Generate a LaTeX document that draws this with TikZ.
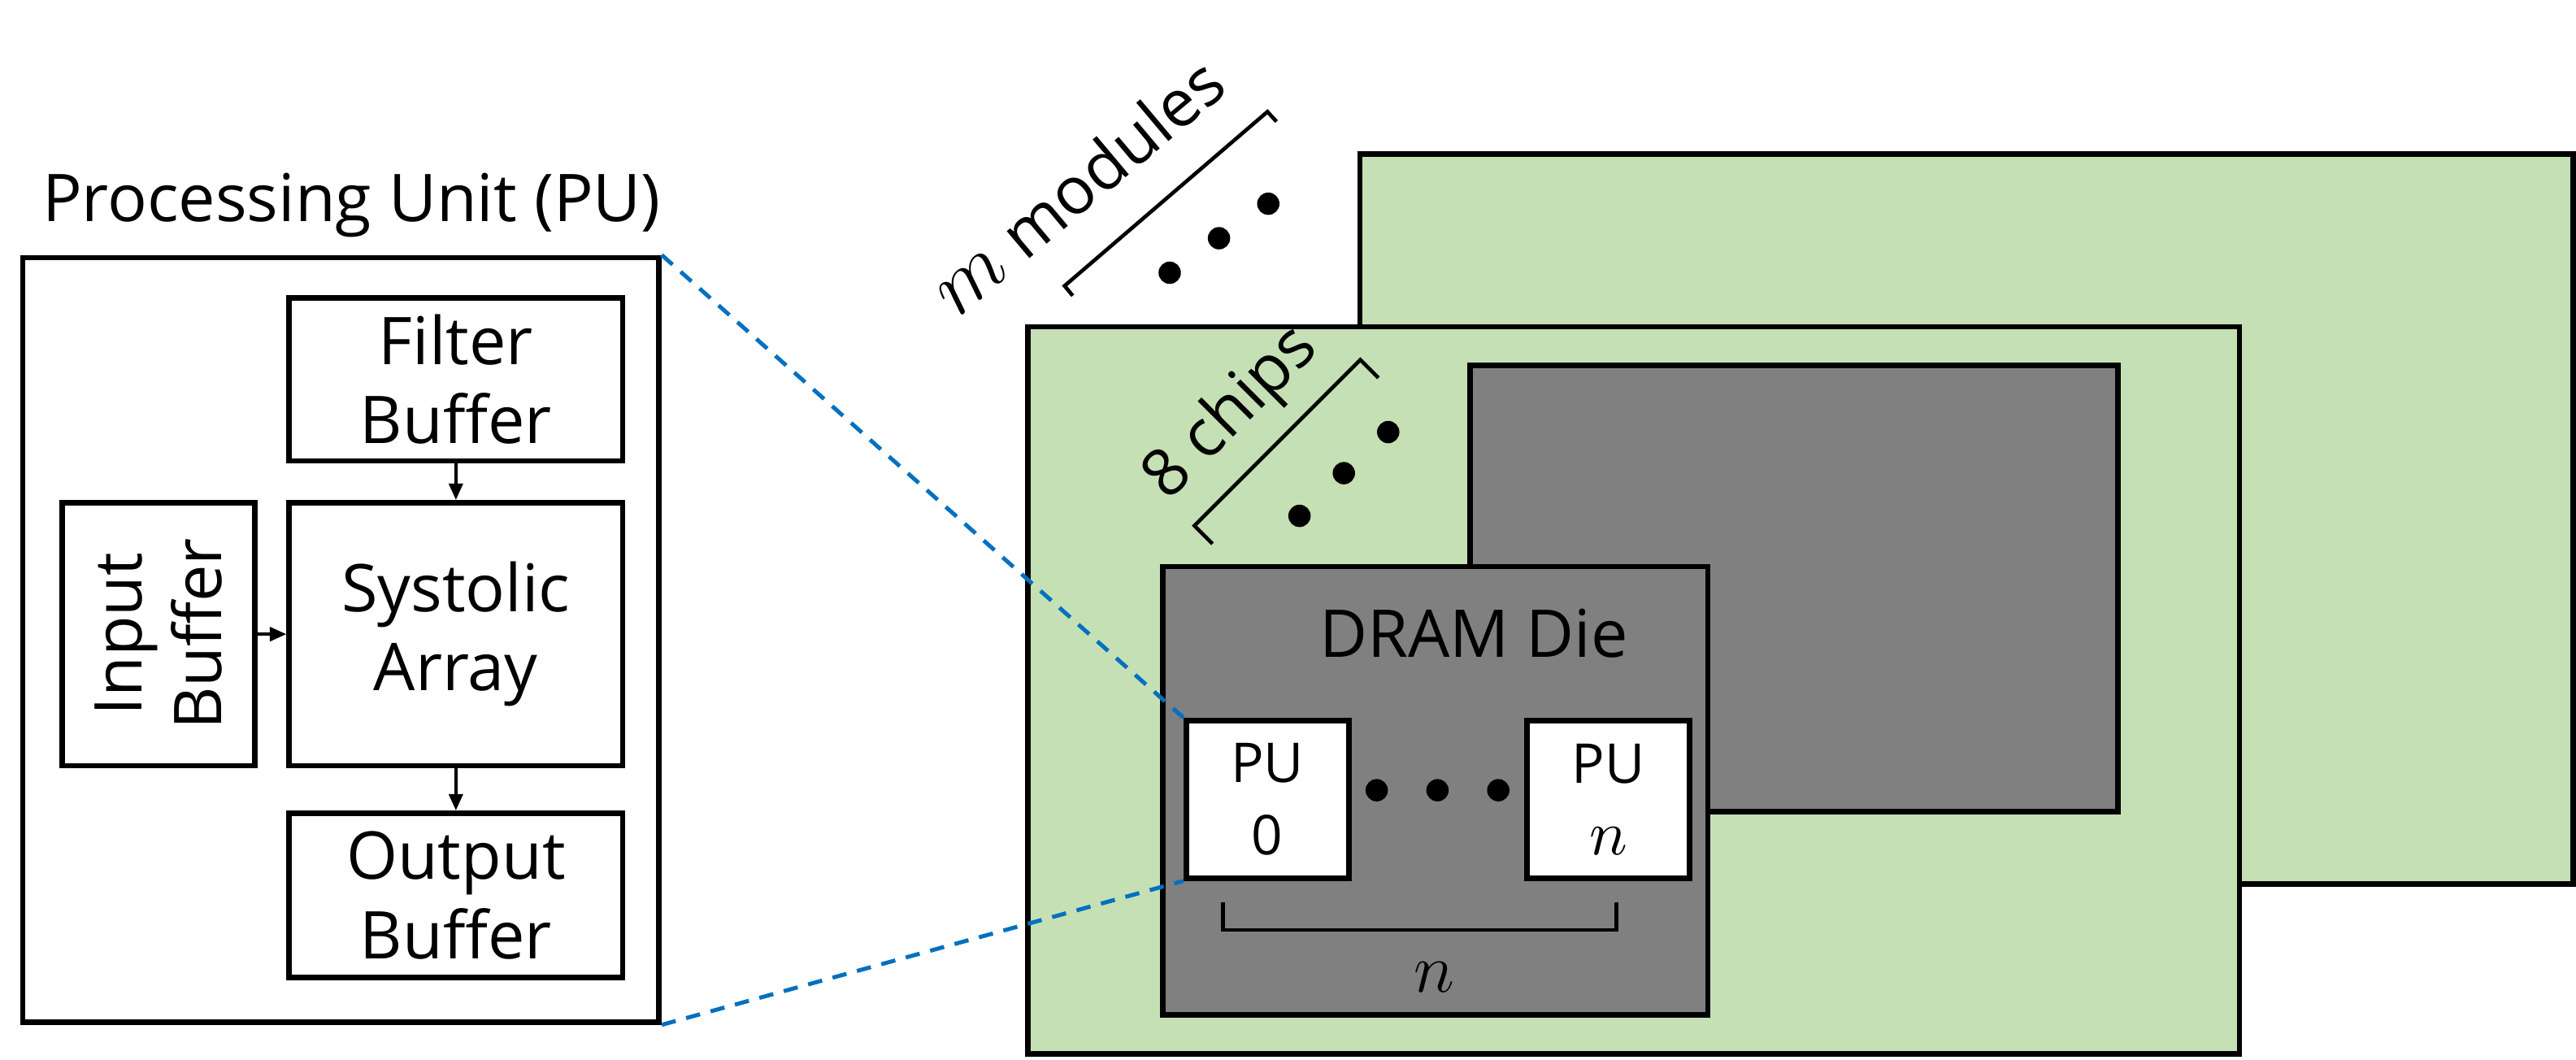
\documentclass[tikz,border=0pt]{standalone}
\usepackage{fontspec}
\setmainfont{Open Sans}
\usetikzlibrary{arrows.meta}
\definecolor{modgreen}{HTML}{C5E0B4}
\definecolor{diegray}{HTML}{808080}
\definecolor{linkblue}{HTML}{0070C0}
\newcommand\lblfont{\fontsize{11.4pt}{13.7pt}\selectfont}
\newcommand\pufont{\fontsize{9.5pt}{12.4pt}\selectfont}
\begin{document}
\begin{tikzpicture}[x=0.01cm, y=-0.01cm,
  box/.style={draw, line width=0.95pt, inner sep=0pt, align=center, font=\lblfont},
  arr/.style={-{Triangle[length=0.1cm,width=0.085cm]}, line width=0.5pt},
  brk/.style={line width=0.65pt},
  dot/.style={circle, fill=black, inner sep=0pt, minimum size=0.136cm},
  link/.style={draw=linkblue, line width=0.7pt, dash pattern=on 0.088cm off 0.066cm}]
\useasboundingbox (0,0) rectangle (1568,645);

% ---------- Processing unit detail ----------
\node[font=\lblfont, anchor=base] (title) at (214,135) {Processing Unit (PU)};
\node[box, minimum width=3.87cm, minimum height=4.65cm] (pu) at (207.5,389.5) {};
\node[box, minimum width=2.03cm, minimum height=0.99cm] (filter) at (277.5,231) {Filter\\Buffer};
\node[box, minimum width=2.03cm, minimum height=1.60cm] (systolic) at (277.5,386) {Systolic\\Array};
\node[box, minimum width=1.17cm, minimum height=1.60cm] (input) at (96.5,386) {};
\node[font=\lblfont, rotate=90, align=center, inner sep=0pt] (inputlbl) at (input.center) {Input\\Buffer};
\node[box, minimum width=2.03cm, minimum height=1.00cm] (output) at (277.5,545) {Output\\Buffer};
\draw[arr] (filter.south) -- (systolic.north);
\draw[arr] (input.east) -- (systolic.west);
\draw[arr] (systolic.south) -- (output.north);

% ---------- Modules, chips, dies ----------
\node[box, fill=modgreen, minimum width=7.38cm, minimum height=4.44cm] (backmod) at (1197,316) {};
\node[box, fill=modgreen, minimum width=7.37cm, minimum height=4.425cm] (frontmod) at (994.5,420.25) {};
\node[box, fill=diegray, minimum width=3.94cm, minimum height=2.715cm] (backdie) at (1092,358.25) {};
\node[box, fill=diegray, minimum width=3.315cm, minimum height=2.725cm] (frontdie) at (873.75,481.25) {};
\node[font=\lblfont] (dram) at (897,385.5) {DRAM Die};
\node[box, fill=white, minimum width=0.99cm, minimum height=0.96cm, font=\pufont] (pu0) at (771.5,486.5) {PU\\0};
\node[box, fill=white, minimum width=0.99cm, minimum height=0.96cm, font=\pufont] (pun) at (979,486.5) {PU\\{\lblfont$n$}};
\node[dot] (pd1) at (838,481) {};
\node[dot] (pd2) at (875,481) {};
\node[dot] (pd3) at (912,481) {};

% bracket under PUs
\coordinate (bl) at (744.5,549);
\coordinate (br) at (984,549);
\draw[brk] (bl) -- ++(0,17) -| (br);
\node[font=\fontsize{13pt}{13pt}\selectfont] (ncount) at (873,595) {$n$};

% 8 chips
\coordinate (ct1) at (738,331);
\coordinate (c1) at (727,320);
\coordinate (c2) at (828,219);
\coordinate (ct2) at (839,230);
\draw[brk] (ct1) -- (c1) -- (c2) -- (ct2);
\node[dot] (cd1) at (791,314) {};
\node[dot] (cd2) at (818,288) {};
\node[dot] (cd3) at (845,263) {};
\node[font=\lblfont, rotate=45] (chips) at (750,252) {8 chips};

% m modules
\coordinate (mt1) at (653,180);
\coordinate (m1) at (648,174);
\coordinate (m2) at (771.5,68);
\coordinate (mt2) at (777,74);
\draw[brk] (mt1) -- (m1) -- (m2) -- (mt2);
\node[dot] (md1) at (712,166) {};
\node[dot] (md2) at (742,145) {};
\node[dot] (md3) at (772,124) {};
\node[font=\lblfont, rotate=40] (modules) at (656,113) {{\fontsize{14pt}{14pt}\selectfont$m$} modules};

% zoom lines
\draw[link] (pu.north east) -- (pu0.north west);
\draw[link] (pu.south east) -- (pu0.south west);
\end{tikzpicture}
\end{document}
